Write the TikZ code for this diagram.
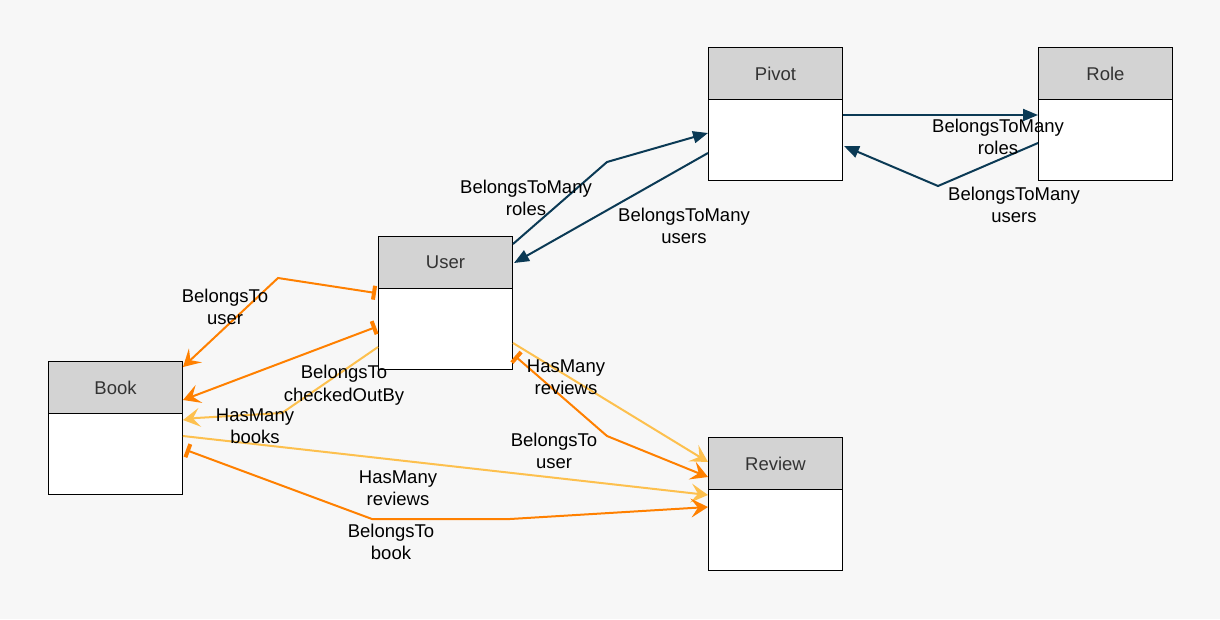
\documentclass[tikz,border=0pt]{standalone}
\usepackage{fontspec}
\setmainfont{Liberation Sans}
\usetikzlibrary{arrows.meta,calc}
\definecolor{bg}{HTML}{F7F7F7}
\definecolor{hdrfill}{HTML}{D3D3D3}
\definecolor{hdrtext}{HTML}{333333}
\definecolor{belongs}{HTML}{FF8000}
\definecolor{hasmany}{HTML}{FDC04E}
\definecolor{btm}{HTML}{0B3A55}
\tikzset{
  ent/.style={draw=black, line width=1pt, fill=white, minimum width=134pt, minimum height=133pt, inner sep=0pt, anchor=north west},
  hdr/.style={draw=black, line width=1pt, fill=hdrfill, minimum width=134pt, minimum height=52pt, inner sep=0pt, anchor=north, text=hdrtext, font=\fontsize{18.5}{22}\selectfont},
  lbl/.style={align=center, font=\fontsize{18.5}{22.5}\selectfont, text=black, inner sep=1pt},
  crow/.tip={Stealth[length=17pt,width=19pt,inset=7pt]},
  onebar/.tip={Bar[width=14pt,line width=4pt]},
  bt/.style={draw=belongs, line width=2pt},
  hm/.style={draw=hasmany, line width=2pt},
  bm/.style={draw=btm, line width=2pt, -{Triangle[length=15pt,width=12pt]}},
}
\begin{document}
\begin{tikzpicture}[x=1pt,y=-1pt]
\useasboundingbox[fill=bg] (0,0) rectangle (1220,619);
% entities
\node[ent] (pivot) at (708,47) {};
\node[hdr] (pivoth) at (pivot.north) {Pivot};
\node[ent] (role) at (1038,47) {};
\node[hdr] (roleh) at (role.north) {Role};
\node[ent] (user) at (378,236) {};
\node[hdr] (userh) at (user.north) {User};
\node[ent] (book) at (48,361) {};
\node[hdr] (bookh) at (book.north) {Book};
\node[ent] (review) at (708,437) {};
\node[hdr] (reviewh) at (review.north) {Review};
% waypoints
\coordinate (w1) at (607,162);
\coordinate (w4) at (938,186);
\coordinate (w5) at (278,278);
\coordinate (w7a) at (282,413);
\coordinate (w7b) at (196,418);
\coordinate (w9a) at (510,519);
\coordinate (w9b) at (372,519);
\coordinate (w11) at (607,436);
% BelongsToMany
\draw[bm] ($(user.north east)+(0,8)$) -- (w1) -- ($(pivot.north west)+(0,86)$);
\draw[bm] ($(pivot.north west)+(0,106)$) -- ($(user.north east)+(1,27)$);
\draw[bm] ($(pivot.north east)+(0,68)$) -- ($(role.north west)+(0,68)$);
\draw[bm] ($(role.north west)+(0,96)$) -- (w4) -- ($(pivot.north east)+(1,99)$);
% HasMany (light)
\draw[hm, -{crow}] ($(user.north west)+(0,111)$) -- (w7a) -- (w7b) -- ($(book.north east)+(0,59)$);
\draw[hm, -{crow}] ($(book.north east)+(0,75)$) -- ($(review.north west)+(0,58)$);
\draw[hm, -{crow}] ($(user.north east)+(0,107)$) -- ($(review.north west)+(0,25)$);
% BelongsTo (dark orange)
\draw[bt, {crow}-{onebar}] ($(book.north east)+(0,6)$) -- (w5) -- ($(user.north west)+(-2,57)$);
\draw[bt, {crow}-{onebar}] ($(book.north east)+(0,39)$) -- ($(user.north west)+(-2,91)$);
\draw[bt, {crow}-{onebar}] ($(review.north west)+(0,70)$) -- (w9a) -- (w9b) -- ($(book.north east)+(3,89)$);
\draw[bt, {crow}-{onebar}] ($(review.north west)+(0,40)$) -- (w11) -- ($(user.north east)+(2,120)$);
% labels
\node[lbl] (l1) at (526,198) {BelongsToMany\\roles};
\node[lbl] (l2) at (684,226) {BelongsToMany\\users};
\node[lbl] (l3) at (998,137) {BelongsToMany\\roles};
\node[lbl] (l4) at (1014,205) {BelongsToMany\\users};
\node[lbl] (l5) at (225,307) {BelongsTo\\user};
\node[lbl] (l6) at (344,385) {BelongsTo\\checkedOutBy};
\node[lbl] (l7) at (255,426) {HasMany\\books};
\node[lbl] (l8) at (398,488) {HasMany\\reviews};
\node[lbl] (l9) at (391,542) {BelongsTo\\book};
\node[lbl] (l10) at (566,377) {HasMany\\reviews};
\node[lbl] (l11) at (554,451) {BelongsTo\\user};
\end{tikzpicture}
\end{document}
